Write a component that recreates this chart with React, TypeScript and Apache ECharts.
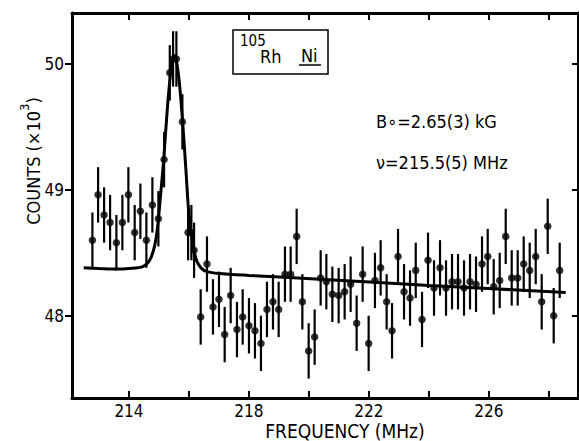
import React, { useEffect, useRef } from "react";
import * as echarts from "echarts";

// Measured data points (frequency MHz, counts x10^3)
const freq = [
  212.78, 212.97, 213.17, 213.37, 213.58, 213.78, 213.98, 214.19, 214.38, 214.58,
  214.78, 214.98, 215.17, 215.36, 215.47, 215.58, 215.78, 215.97, 216.08, 216.17,
  216.39, 216.6, 216.8, 217.0, 217.19, 217.39, 217.6, 217.79, 218.0, 218.2,
  218.4, 218.6, 218.8, 218.99, 219.2, 219.39, 219.59, 219.78, 219.99, 220.19,
  220.39, 220.58, 220.78, 220.99, 221.19, 221.39, 221.59, 221.79, 221.99, 222.2,
  222.39, 222.59, 222.77, 222.97, 223.17, 223.37, 223.56, 223.77, 223.97, 224.17,
  224.37, 224.57, 224.77, 224.97, 225.17, 225.37, 225.57, 225.77, 225.96, 226.16,
  226.36, 226.56, 226.76, 226.96, 227.16, 227.36, 227.56, 227.76, 227.96, 228.16,
  228.36,
];
const counts = [
  48.6, 48.96, 48.8, 48.74, 48.58, 48.74, 48.96, 48.66, 48.83, 48.6,
  48.88, 48.77, 49.24, 49.93, 50.04, 50.04, 49.54, 48.66, 48.66, 48.52,
  47.99, 48.41, 48.07, 48.13, 47.85, 48.16, 47.89, 47.99, 47.92, 47.88,
  47.78, 48.05, 48.11, 48.05, 48.33, 48.33, 48.63, 48.11, 47.72, 47.83,
  48.3, 48.27, 48.17, 48.16, 48.19, 48.25, 47.94, 48.33, 47.78, 48.28,
  48.38, 48.11, 47.88, 48.47, 48.19, 48.14, 48.36, 47.97, 48.44, 48.22,
  48.38, 48.22, 48.27, 48.27, 48.22, 48.27, 48.25, 48.41, 48.47, 48.23,
  48.28, 48.63, 48.3, 48.3, 48.41, 48.36, 48.47, 48.11, 48.71, 48.0,
  48.36,
];
const errHalf = 0.22;

// Fit curve
const fitFreq = [
  212.49, 213.0, 213.58, 214.0, 214.46, 214.69, 214.85, 214.95, 215.05, 215.16,
  215.28, 215.4, 215.5, 215.6, 215.7, 215.8, 215.9, 216.0, 216.12, 216.25,
  216.4, 216.6, 217.0, 218.0, 220.36, 224.0, 228.56,
];
const fitCounts = [
  48.38, 48.375, 48.37, 48.375, 48.39, 48.44, 48.55, 48.7, 48.95, 49.25,
  49.65, 49.95, 50.07, 50.0, 49.8, 49.5, 49.15, 48.8, 48.58, 48.44,
  48.38, 48.35, 48.335, 48.32, 48.29, 48.24, 48.185,
];

const xTicks = [214, 216, 218, 220, 222, 224, 226, 228];
const xLabels = [214, 218, 222, 226];
const yTicks = [48, 49, 50];

const X_MIN = 212.1;
const X_MAX = 228.97;
const Y_MIN = 47.346;
const Y_MAX = 50.405;

const INK = "#000";
const FONT = "'DejaVu Sans Condensed', 'DejaVu Sans', sans-serif";

export default function App() {
  const ref = useRef<HTMLDivElement>(null);

  useEffect(() => {
    if (!ref.current) return;
    const chart = echarts.init(ref.current, undefined, { renderer: "svg" });

    const points = freq.map((f, i) => [f, counts[i]]);
    const bars = freq.map((f, i) => [f, counts[i], errHalf]);
    const fit = fitFreq.map((f, i) => [f, fitCounts[i]]);

    const axisLine = { show: true, lineStyle: { color: INK, width: 3 } };
    const tickStyle = { color: INK, width: 2 };

    chart.setOption({
      animation: false,
      backgroundColor: "#fff",
      grid: { left: 72, right: 1, top: 13, bottom: 43, containLabel: false },
      xAxis: [
        {
          type: "value",
          position: "bottom",
          min: X_MIN,
          max: X_MAX,
          axisLine,
          axisTick: { show: true, inside: true, length: 7, lineStyle: tickStyle, customValues: xTicks },
          axisLabel: { customValues: xLabels, margin: 4, fontSize: 17, color: INK, fontFamily: FONT },
          splitLine: { show: false },
        },
        {
          type: "value",
          position: "top",
          min: X_MIN,
          max: X_MAX,
          axisLine,
          axisTick: { show: true, inside: true, length: 7, lineStyle: tickStyle, customValues: xTicks },
          axisLabel: { show: false },
          splitLine: { show: false },
        },
      ],
      yAxis: [
        {
          type: "value",
          position: "left",
          min: Y_MIN,
          max: Y_MAX,
          axisLine,
          axisTick: { show: true, inside: false, length: 7, lineStyle: tickStyle, customValues: yTicks },
          axisLabel: { customValues: yTicks, margin: 8, fontSize: 17, color: INK, fontFamily: FONT },
          splitLine: { show: false },
        },
        {
          type: "value",
          position: "right",
          min: Y_MIN,
          max: Y_MAX,
          axisLine,
          axisTick: { show: true, inside: true, length: 6, lineStyle: tickStyle, customValues: yTicks },
          axisLabel: { show: false },
          splitLine: { show: false },
        },
      ],
      series: [
        {
          type: "custom",
          xAxisIndex: 0,
          yAxisIndex: 0,
          data: bars,
          renderItem: (params: any, api: any) => {
            const x = api.value(0);
            const y = api.value(1);
            const e = api.value(2);
            const lo = api.coord([x, y - e]);
            const hi = api.coord([x, y + e]);
            return {
              type: "line",
              shape: { x1: lo[0], y1: lo[1], x2: hi[0], y2: hi[1] },
              style: { stroke: INK, lineWidth: 2.2 },
            };
          },
          silent: true,
          z: 2,
        },
        {
          type: "line",
          xAxisIndex: 0,
          yAxisIndex: 0,
          data: fit,
          symbol: "none",
          smooth: 0.3,
          lineStyle: { color: INK, width: 3 },
          silent: true,
          z: 3,
        },
        {
          type: "scatter",
          xAxisIndex: 0,
          yAxisIndex: 0,
          data: points,
          symbol: "circle",
          symbolSize: 7.5,
          itemStyle: { color: INK },
          silent: true,
          z: 4,
        },
      ],
      graphic: [
        {
          type: "text",
          x: 345,
          y: 431,
          style: {
            text: "FREQUENCY (MHz)",
            fill: INK,
            font: `19px ${FONT}`,
            lineHeight: 16,
            align: "center",
            verticalAlign: "middle",
          },
        },
        {
          type: "text",
          x: 30,
          y: 161,
          rotation: Math.PI / 2,
          style: {
            text: "{a|COUNTS (×10}{b|3}{a|)}",
            fill: INK,
            align: "center",
            verticalAlign: "middle",
            rich: {
              a: { fontSize: 18, fontFamily: FONT, fill: INK, lineHeight: 24, verticalAlign: "bottom" },
              b: { fontSize: 13, fontFamily: FONT, fill: INK, verticalAlign: "top" },
            },
          },
        },
        {
          type: "rect",
          shape: { x: 233, y: 30, width: 95, height: 44 },
          style: { fill: "none", stroke: INK, lineWidth: 1.5 },
        },
        {
          type: "text",
          x: 240,
          y: 41,
          style: { text: "105", fill: INK, font: `15px ${FONT}`, align: "left", verticalAlign: "middle" },
        },
        {
          type: "text",
          x: 260,
          y: 56,
          style: { text: "Rh", fill: INK, font: `18px ${FONT}`, align: "left", verticalAlign: "middle" },
        },
        {
          type: "text",
          x: 301,
          y: 55,
          style: { text: "Ni", fill: INK, font: `18px ${FONT}`, align: "left", verticalAlign: "middle" },
        },
        {
          type: "line",
          shape: { x1: 299, y1: 65, x2: 321, y2: 65 },
          style: { stroke: INK, lineWidth: 1.5 },
        },
        {
          type: "text",
          x: 376,
          y: 121,
          style: {
            text: "B∘=2.65(3) kG",
            fill: INK,
            font: `18px ${FONT}`,
            align: "left",
            verticalAlign: "middle",
          },
        },
        {
          type: "text",
          x: 376,
          y: 162.5,
          style: {
            text: "ν=215.5(5) MHz",
            fill: INK,
            font: `18px ${FONT}`,
            align: "left",
            verticalAlign: "middle",
          },
        },
      ],
    });

    return () => chart.dispose();
  }, []);

  return (
    <div
      ref={ref}
      style={{ position: "fixed", left: 0, top: 0, width: 579, height: 441, background: "#fff" }}
    />
  );
}
